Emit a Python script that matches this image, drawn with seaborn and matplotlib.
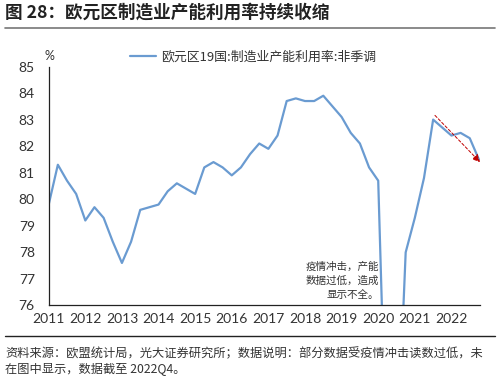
import numpy as np
import pandas as pd
import matplotlib
matplotlib.use("Agg")
import matplotlib.pyplot as plt
import seaborn as sns

# quarterly data 2011Q1 - 2022Q4
years = list(range(2011, 2023))
capacity_util = [
    79.8, 81.3, 80.7, 80.2,   # 2011
    79.2, 79.7, 79.3, 78.4,   # 2012
    77.6, 78.4, 79.6, 79.7,   # 2013
    79.8, 80.3, 80.6, 80.4,   # 2014
    80.2, 81.2, 81.4, 81.2,   # 2015
    80.9, 81.2, 81.7, 82.1,   # 2016
    81.9, 82.4, 83.7, 83.8,   # 2017
    83.7, 83.7, 83.9, 83.5,   # 2018
    83.1, 82.5, 82.1, 81.2,   # 2019
    80.7, 68.9, 69.7, 78.0,   # 2020
    79.3, 80.8, 83.0, 82.7,   # 2021
    82.4, 82.5, 82.3, 81.5,   # 2022
]
series_label = "欧元区19国:制造业产能利用率:非季调"
title = "图 28：欧元区制造业产能利用率持续收缩"
note = "疫情冲击，产能\n数据过低，造成\n显示不全。"
source = "资料来源：欧盟统计局，光大证券研究所；数据说明：部分数据受疫情冲击读数过低，未\n在图中显示，数据截至 2022Q4。"

t = [y + i / 4 for y in years for i in range(4)]
df = pd.DataFrame({"t": t, "value": capacity_util})

sns.set_style("white")
plt.rcParams["font.family"] = ["Lato", "Noto Sans CJK SC", "DejaVu Sans"]
cjk = ["Noto Sans CJK SC", "DejaVu Sans"]

fig = plt.figure(figsize=(5, 3.78), dpi=100)
ax = fig.add_axes([0.0974, 0.192, 0.8626, 0.632])

sns.lineplot(data=df, x="t", y="value", ax=ax, color="#6A9BD1", linewidth=1.6,
             label=series_label)

ax.set_xlim(2011, 2022.78)
ax.set_ylim(76, 85)
ax.set_xticks(years)
ax.set_xticklabels([str(y) for y in years])
ax.set_yticks(range(76, 86))
ax.set_xlabel("")
ax.set_ylabel("")
ax.tick_params(axis="both", direction="in", length=3, width=0.8,
               labelsize=10, colors="#333333")
ax.tick_params(axis="y", pad=10)
ax.tick_params(axis="x", pad=5.5)
for s in ["top", "right"]:
    ax.spines[s].set_visible(False)
for s in ["left", "bottom"]:
    ax.spines[s].set_color("#222222")
    ax.spines[s].set_linewidth(0.9)

leg = ax.legend(loc="lower center", bbox_to_anchor=(0.474, 0.99), frameon=False,
                handlelength=2.0, handletextpad=0.4,
                borderaxespad=0.0, prop={"family": cjk, "size": 9.3})
for txt in leg.get_texts():
    txt.set_color("#333333")

ax.text(-0.01, 1.02, "%", transform=ax.transAxes, fontsize=9, color="#333333",
        ha="left", va="bottom")

ax.annotate("", xy=(2022.78, 81.4), xytext=(2021.55, 83.16),
            arrowprops=dict(arrowstyle="-|>", color="#E03030", lw=0.7, ls=(0, (3, 2)),
                            mutation_scale=11, shrinkA=0, shrinkB=0,
                            fc="#C00000", ec="#C00000"))

ax.text(2020.02, 76.2, note, fontsize=7.6, color="#333333", ha="right",
        va="bottom", linespacing=1.5, family=cjk)

fig.text(0.01, 0.966, title, fontsize=12.7, fontweight="bold", color="#222222",
         ha="left", va="center", family=cjk)
fig.add_artist(plt.Line2D([0.01, 0.99], [0.925, 0.925], color="#777777", lw=1.2))
fig.add_artist(plt.Line2D([0.01, 0.99], [0.111, 0.111], color="#222222", lw=1.0))
fig.text(0.01, 0.0635, source.split("\n")[0], fontsize=8.8, color="#333333",
         ha="left", va="center", family=cjk)
fig.text(0.01, 0.026, source.split("\n")[1], fontsize=8.8, color="#333333",
         ha="left", va="center", family=cjk)

fig.savefig("out.png", dpi=100)
